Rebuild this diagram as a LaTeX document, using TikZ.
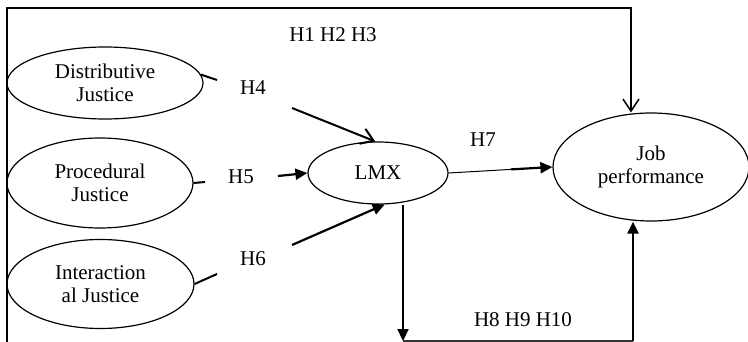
\documentclass[tikz,border=0pt]{standalone}
\usepackage{fontspec}
\setmainfont{Liberation Serif}
\usetikzlibrary{shapes.geometric,arrows.meta,calc}
\begin{document}
\begin{tikzpicture}[x=1pt,y=-1pt,
  txt/.style={font=\fontsize{21}{23.5}\selectfont, inner sep=0pt},
  ell/.style={ellipse, draw, line width=1.2pt, inner sep=0pt, align=center,
              font=\fontsize{21}{23.5}\selectfont},
  solid arrow/.style={line width=2.2pt, -{Triangle[length=12pt,width=11pt]}},
  barb arrow/.style={line width=2pt, -{Straight Barb[length=12pt,width=16pt,line width=2pt]}},
  stub/.style={line width=2pt},
  frame/.style={line width=1.5pt},
]
\useasboundingbox (0,0) rectangle (748,342);

% constructs
\node[ell, minimum width=196pt, minimum height=72pt] (dj) at (105,83) {Distributive\\Justice};
\node[ell, minimum width=186pt, minimum height=90pt] (pj) at (100,183) {Procedural\\Justice};
\node[ell, minimum width=187pt, minimum height=89pt] (ij) at (100.5,284) {Interaction\\al Justice};
\node[ell, minimum width=140pt, minimum height=62pt] (lmx) at (378,173) {LMX};
\node[ell, minimum width=196pt, minimum height=108pt] (jp) at (651,167) {Job\\performance};

% hypothesis labels
\node[txt] (h123) at (333,35) {H1 H2 H3};
\node[txt] (h4) at (253,88) {H4};
\node[txt] (h5) at (241,177) {H5};
\node[txt] (h6) at (253,259) {H6};
\node[txt] (h7) at (483,140) {H7};
\node[txt] (h8) at (523,320) {H8 H9 H10};

% path ends around the labels and the frame corners
\coordinate (s4) at (217,80);
\coordinate (a4) at (292,108);
\coordinate (s5) at (205,182);
\coordinate (a5) at (278,176);
\coordinate (s6) at (217,274);
\coordinate (a6) at (292,245);
\coordinate (bl) at (7,342);
\coordinate (tl) at (7,8);
\coordinate (tr) at (631,8);
\coordinate (b1) at (403,341);
\coordinate (b2) at (633,341);

% justice -> LMX
\draw[stub] (dj.5) -- (s4);
\draw[barb arrow] (a4) -- (lmx.95);
\draw[stub] (pj.east) -- (s5);
\draw[solid arrow] (a5) -- (lmx.west);
\draw[stub] (ij.east) -- (s6);
\draw[solid arrow] (a6) -- (lmx.-78);

% LMX -> job performance
\draw[line width=1pt] (lmx.east) -- ($(lmx.east)!0.6!(jp.west)$);
\draw[solid arrow] ($(lmx.east)!0.6!(jp.west)$) -- (jp.west);

% direct path along the frame
\draw[frame, -{Straight Barb[length=12pt,width=16pt,line width=1.5pt]}]
  (bl) -- (tl) -- (tr) -- (jp.north -| tr);

% mediated path along the bottom
\draw[solid arrow] (lmx.south -| b1) -- (b1);
\draw[line width=1.2pt, draw=black!80] (b1) -- (b2);
\draw[solid arrow] (b2) -- (jp.south -| b2);
\end{tikzpicture}
\end{document}
